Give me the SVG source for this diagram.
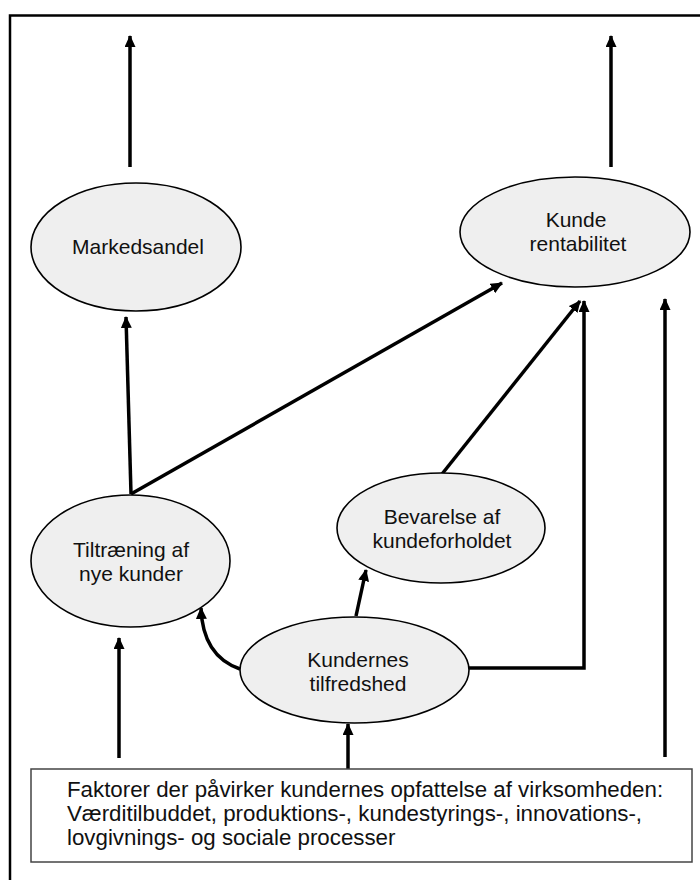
<svg xmlns="http://www.w3.org/2000/svg" width="700" height="880" viewBox="0 0 700 880">
  <style>
    .node ellipse { fill: #efefef; stroke: #000; stroke-width: 1.6; }
    .lbl { font-family: "Liberation Sans", Arial, sans-serif; font-size: 21px; fill: #111; text-anchor: middle; }
    .box-text { font-family: "Liberation Sans", Arial, sans-serif; font-size: 22.3px; fill: #111; }
    .edge { fill: none; stroke: #000; stroke-width: 3.5; }
    .edge-arrow { fill: none; stroke: #000; stroke-width: 3.5; marker-end: url(#head); }
  </style>
  <defs>
    <marker id="head" markerUnits="userSpaceOnUse" markerWidth="12" markerHeight="11" refX="11" refY="5.5" orient="auto">
      <path d="M0,0 L12,5.5 L0,11 z" fill="#000"/>
    </marker>
  </defs>

  <rect width="700" height="880" fill="#fff"/>

  <!-- outer frame (left and top edges) -->
  <path d="M10,880 V15.5 H700" fill="none" stroke="#000" stroke-width="2.5"/>

  <g id="connectors">
    <!-- outgoing arrows at the top -->
    <line class="edge-arrow" x1="130" y1="167" x2="130" y2="36"/>
    <line class="edge-arrow" x1="611" y1="167" x2="611" y2="36"/>
    <!-- Tiltræning -> Markedsandel -->
    <line class="edge-arrow" x1="131" y1="494" x2="126" y2="317"/>
    <!-- Tiltræning -> Kunde rentabilitet -->
    <line class="edge-arrow" x1="131" y1="494" x2="502" y2="283"/>
    <!-- Bevarelse -> Kunde rentabilitet -->
    <line class="edge-arrow" x1="442" y1="474" x2="580" y2="301"/>
    <!-- Kundernes tilfredshed -> Kunde rentabilitet (elbow) -->
    <path class="edge-arrow" d="M469,668 H584 V301"/>
    <!-- right side input -->
    <line class="edge-arrow" x1="665" y1="757" x2="665" y2="299"/>
    <!-- Kundernes tilfredshed -> Bevarelse -->
    <line class="edge-arrow" x1="356" y1="616" x2="366" y2="570"/>
    <!-- Kundernes tilfredshed -> Tiltræning (curved) -->
    <path class="edge-arrow" d="M240,669 C214,660 202,638 201,608"/>
    <!-- factor box -> Tiltræning -->
    <line class="edge-arrow" x1="119" y1="758" x2="119" y2="638"/>
    <!-- factor box -> Kundernes tilfredshed -->
    <line class="edge-arrow" x1="348" y1="769" x2="348" y2="724"/>
  </g>

  <g id="markedsandel" class="node">
    <ellipse cx="136" cy="247" rx="105" ry="64"/>
    <text class="lbl" x="138" y="254">Markedsandel</text>
  </g>

  <g id="kunde-rentabilitet" class="node">
    <ellipse cx="575" cy="232" rx="115" ry="55"/>
    <text class="lbl" x="576" y="227">Kunde</text>
    <text class="lbl" x="578" y="251">rentabilitet</text>
  </g>

  <g id="tiltraening" class="node">
    <ellipse cx="130.5" cy="561" rx="99.5" ry="66"/>
    <text class="lbl" x="131" y="557">Tiltræning af</text>
    <text class="lbl" x="131" y="581">nye kunder</text>
  </g>

  <g id="bevarelse" class="node">
    <ellipse cx="441" cy="528" rx="104" ry="55"/>
    <text class="lbl" x="442" y="524">Bevarelse af</text>
    <text class="lbl" x="442" y="548">kundeforholdet</text>
  </g>

  <g id="kundernes-tilfredshed" class="node">
    <ellipse cx="354.5" cy="670" rx="114.5" ry="53"/>
    <text class="lbl" x="358" y="667">Kundernes</text>
    <text class="lbl" x="358" y="691">tilfredshed</text>
  </g>

  <g id="faktorer">
    <rect x="31" y="769" width="661" height="93" fill="#fff" stroke="#444" stroke-width="1.5"/>
    <text class="box-text" x="67" y="797">Faktorer der påvirker kundernes opfattelse af virksomheden:</text>
    <text class="box-text" x="67" y="821">Værditilbuddet, produktions-, kundestyrings-, innovations-,</text>
    <text class="box-text" x="67" y="845">lovgivnings- og sociale processer</text>
  </g>
</svg>
